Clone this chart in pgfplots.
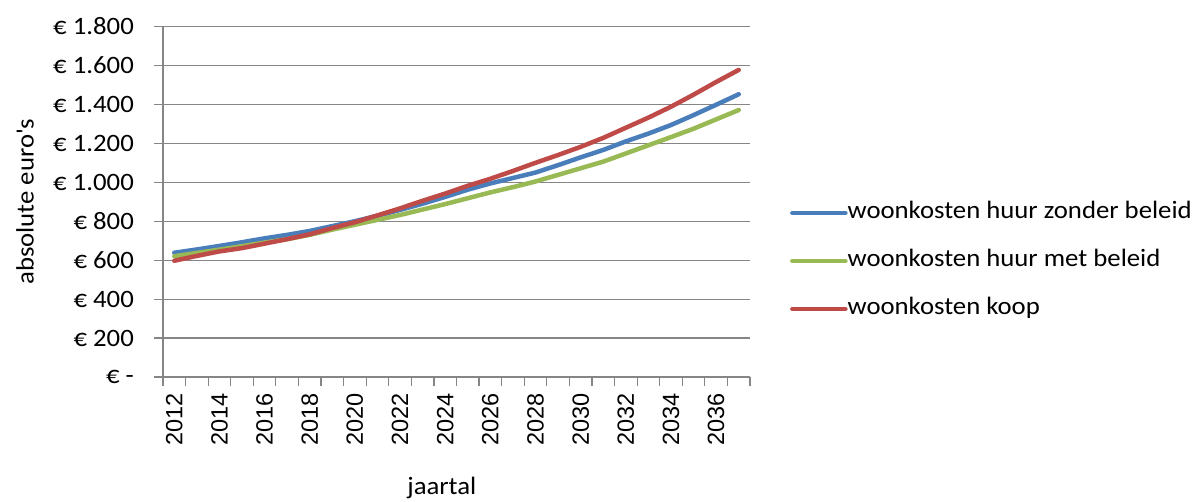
\documentclass[border=0pt]{standalone}
\usepackage{fontspec}
\setmainfont{Carlito}[FakeStretch=1.07]
\newfontfamily\arialf{Liberation Sans}
\usepackage{pgfplots}
\pgfplotsset{compat=1.18}
\definecolor{cblue}{HTML}{4A7EBB}
\definecolor{cgreen}{HTML}{98B954}
\definecolor{cred}{HTML}{BE4B48}
\definecolor{gridc}{HTML}{868686}
\begin{document}
\fontsize{25pt}{30pt}\selectfont
\begin{tikzpicture}[x=1pt,y=1pt,font=\fontsize{25pt}{30pt}\selectfont]
\useasboundingbox (0,0) rectangle (1194,501);
\begin{axis}[
  at={(163pt,124pt)}, anchor=south west,
  scale only axis, width=587pt, height=350.5pt,
  xmin=2011.5, xmax=2037.5, ymin=0, ymax=1800,
  axis x line=bottom, axis y line=left,
  every outer x axis line/.append style={-},
  every outer y axis line/.append style={-},
  axis line style={gridc, line width=1.2pt},
  tick align=outside,
  major tick length=9pt,
  tick style={gridc, line width=1.2pt},
  ytick={0,200,...,1800},
  yticklabels={€ -,€ 200,€ 400,€ 600,€ 800,€ 1.000,€ 1.200,€ 1.400,€ 1.600,€ 1.800},
  yticklabel style={anchor=east, inner sep=0pt, xshift=-20pt},
  ymajorgrids, grid style={gridc, line width=1.2pt},
  xtick={2011.5,2012.5,...,2037.5},
  xticklabels={},
  extra x ticks={2012,2014,2016,2018,2020,2022,2024,2026,2028,2030,2032,2034,2036},
  extra x tick labels={2012,2014,2016,2018,2020,2022,2024,2026,2028,2030,2032,2034,2036},
  extra x tick style={major tick length=0pt, xticklabel style={font=\arialf\fontsize{23.5pt}{28pt}\selectfont, rotate=90, anchor=east, inner sep=0pt, xshift=-16pt}},
  xlabel={jaartal},
  xlabel style={at={([yshift=-111pt]axis description cs:0.475,0)}, anchor=center},
  ylabel={absolute euro\textquotesingle s},
  ylabel style={at={([xshift=-138pt]axis description cs:0,0.5)}, anchor=center},
  legend style={draw=none, fill=none, at={(axis description cs:1.068,0.503)}, anchor=north west,
    inner sep=0pt, row sep=24pt, nodes={inner sep=0pt, text height=18pt, text depth=6pt, anchor=west}},
  legend cell align=left,
  legend image code/.code={\draw[#1, line cap=round] (0pt,0pt) -- (53pt,0pt);},
  every axis plot/.append style={line width=4.5pt, line join=round, line cap=round},
]
\addplot[cblue] coordinates {
(2012,638) (2013,655) (2014,673) (2015,692) (2016,712) (2017,730) (2018,750) (2019,775) (2020,800) (2021,828)
(2022,858) (2023,890) (2024,925) (2025,962) (2026,994) (2027,1022) (2028,1050) (2029,1088) (2030,1128)
(2031,1166) (2032,1210) (2033,1250) (2034,1294) (2035,1345) (2036,1398) (2037,1452)};
\addlegendentry{woonkosten huur zonder beleid}
\addplot[cgreen] coordinates {
(2012,620) (2013,637) (2014,654) (2015,672) (2016,690) (2017,708) (2018,730) (2019,757) (2020,782) (2021,807)
(2022,832) (2023,860) (2024,888) (2025,918) (2026,948) (2027,975) (2028,1004) (2029,1038) (2030,1072)
(2031,1106) (2032,1148) (2033,1190) (2034,1232) (2035,1275) (2036,1323) (2037,1371)};
\addlegendentry{woonkosten huur met beleid}
\addplot[cred] coordinates {
(2012,597) (2013,622) (2014,645) (2015,662) (2016,685) (2017,708) (2018,733) (2019,765) (2020,795) (2021,830)
(2022,866) (2023,905) (2024,942) (2025,982) (2026,1018) (2027,1058) (2028,1100) (2029,1140) (2030,1182)
(2031,1228) (2032,1280) (2033,1332) (2034,1388) (2035,1450) (2036,1515) (2037,1577)};
\addlegendentry{woonkosten koop}
\end{axis}
\end{tikzpicture}
\end{document}
